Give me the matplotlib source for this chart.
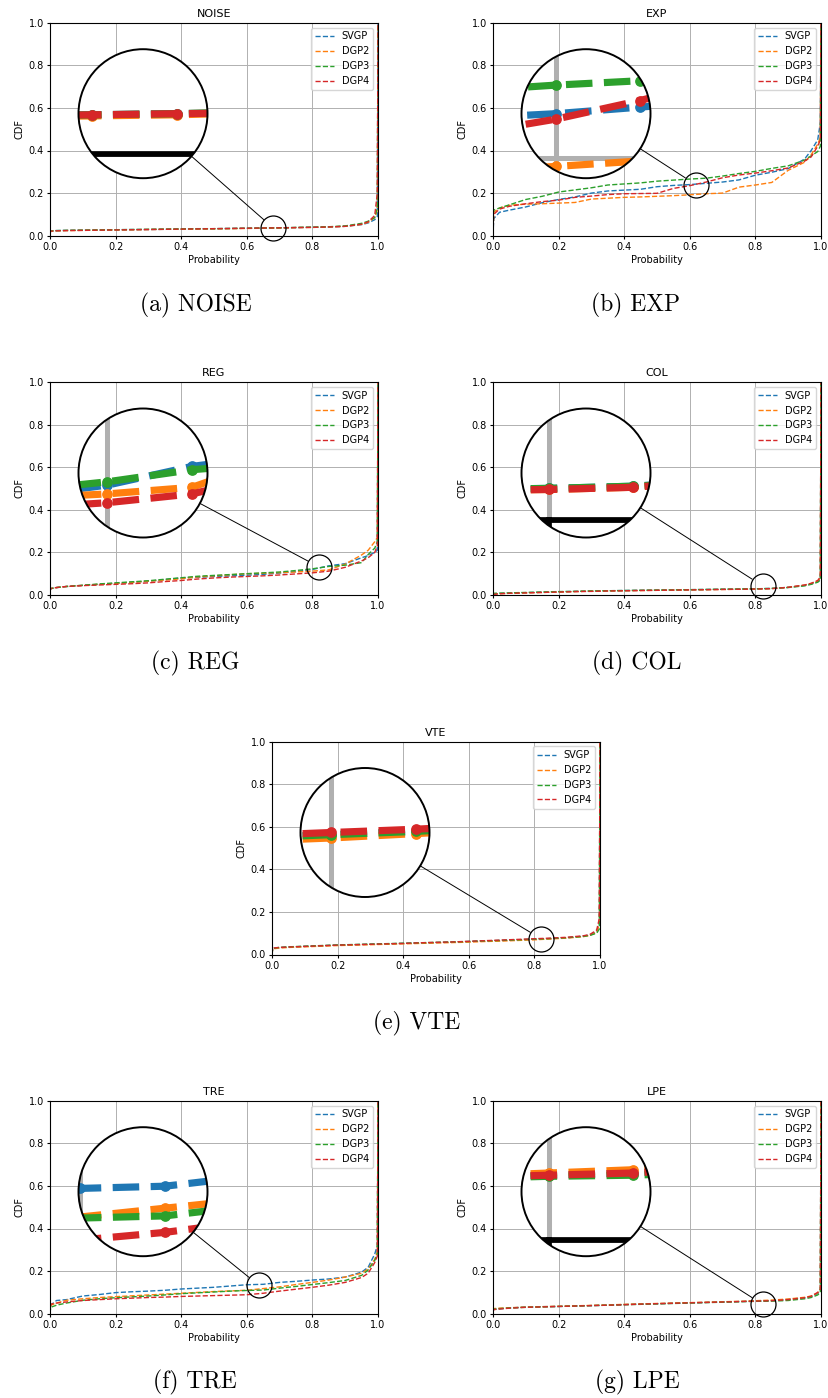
import numpy as np
import matplotlib
matplotlib.use("Agg")
import matplotlib.pyplot as plt
from matplotlib.patches import Circle
from matplotlib.lines import Line2D

# common probability axis for every curve
prob = [0.0, 0.002, 0.02, 0.05, 0.1, 0.15, 0.2, 0.25, 0.3, 0.35, 0.4, 0.45, 0.5,
        0.55, 0.6, 0.65, 0.7, 0.75, 0.8, 0.85, 0.9, 0.95, 0.97, 0.99, 0.998, 1.0]

noise_svgp = [0.010, 0.022, 0.024, 0.025, 0.026, 0.027, 0.028, 0.029, 0.029, 0.030, 0.031, 0.032, 0.033,
              0.034, 0.035, 0.036, 0.037, 0.038, 0.040, 0.041, 0.044, 0.052, 0.060, 0.075, 0.090, 1.0]
noise_dgp2 = [0.010, 0.021, 0.023, 0.024, 0.025, 0.026, 0.027, 0.028, 0.029, 0.030, 0.030, 0.031, 0.032,
              0.033, 0.034, 0.035, 0.036, 0.038, 0.039, 0.041, 0.044, 0.053, 0.063, 0.085, 0.120, 1.0]
noise_dgp3 = [0.012, 0.022, 0.024, 0.025, 0.026, 0.027, 0.028, 0.029, 0.030, 0.031, 0.032, 0.033, 0.033,
              0.034, 0.035, 0.036, 0.037, 0.039, 0.040, 0.042, 0.046, 0.058, 0.068, 0.085, 0.130, 1.0]
noise_dgp4 = [0.010, 0.021, 0.023, 0.024, 0.025, 0.026, 0.027, 0.028, 0.029, 0.030, 0.031, 0.032, 0.033,
              0.034, 0.035, 0.036, 0.037, 0.038, 0.039, 0.041, 0.044, 0.054, 0.065, 0.095, 0.200, 1.0]

exp_svgp = [0.0, 0.080, 0.110, 0.120, 0.135, 0.155, 0.170, 0.182, 0.200, 0.210, 0.214, 0.218, 0.230,
            0.236, 0.240, 0.246, 0.252, 0.262, 0.284, 0.298, 0.315, 0.360, 0.400, 0.450, 0.530, 1.0]
exp_dgp2 = [0.0, 0.110, 0.130, 0.143, 0.148, 0.150, 0.153, 0.156, 0.172, 0.176, 0.180, 0.182, 0.185,
            0.188, 0.192, 0.197, 0.200, 0.228, 0.238, 0.250, 0.307, 0.345, 0.380, 0.430, 0.460, 1.0]
exp_dgp3 = [0.0, 0.120, 0.130, 0.145, 0.170, 0.185, 0.205, 0.215, 0.225, 0.238, 0.243, 0.248, 0.256,
            0.261, 0.266, 0.270, 0.280, 0.292, 0.302, 0.316, 0.328, 0.355, 0.375, 0.395, 0.420, 1.0]
exp_dgp4 = [0.0, 0.100, 0.125, 0.138, 0.150, 0.160, 0.167, 0.180, 0.186, 0.193, 0.197, 0.198, 0.199,
            0.222, 0.235, 0.252, 0.272, 0.285, 0.294, 0.305, 0.318, 0.350, 0.370, 0.420, 0.450, 1.0]

reg_svgp = [0.020, 0.030, 0.035, 0.040, 0.045, 0.050, 0.055, 0.060, 0.065, 0.072, 0.080, 0.083, 0.087,
            0.090, 0.093, 0.097, 0.103, 0.110, 0.120, 0.137, 0.147, 0.175, 0.185, 0.200, 0.210, 1.0]
reg_dgp2 = [0.020, 0.030, 0.035, 0.040, 0.045, 0.050, 0.054, 0.059, 0.065, 0.070, 0.076, 0.085, 0.090,
            0.095, 0.100, 0.102, 0.105, 0.108, 0.112, 0.118, 0.145, 0.188, 0.210, 0.250, 0.270, 1.0]
reg_dgp3 = [0.020, 0.030, 0.035, 0.040, 0.046, 0.052, 0.057, 0.062, 0.067, 0.074, 0.081, 0.088, 0.092,
            0.096, 0.100, 0.104, 0.108, 0.115, 0.123, 0.134, 0.140, 0.152, 0.190, 0.220, 0.250, 1.0]
reg_dgp4 = [0.015, 0.030, 0.035, 0.040, 0.044, 0.047, 0.050, 0.053, 0.057, 0.063, 0.068, 0.075, 0.080,
            0.084, 0.087, 0.090, 0.094, 0.099, 0.104, 0.112, 0.130, 0.160, 0.175, 0.200, 0.230, 1.0]

col_svgp = [0.0, 0.005, 0.007, 0.009, 0.011, 0.013, 0.015, 0.017, 0.018, 0.020, 0.021, 0.022, 0.023,
            0.024, 0.025, 0.026, 0.027, 0.028, 0.029, 0.031, 0.036, 0.045, 0.052, 0.062, 0.075, 1.0]
col_dgp2 = [0.0, 0.004, 0.006, 0.008, 0.010, 0.012, 0.014, 0.016, 0.018, 0.019, 0.020, 0.021, 0.022,
            0.023, 0.024, 0.025, 0.026, 0.027, 0.028, 0.030, 0.036, 0.046, 0.054, 0.066, 0.080, 1.0]
col_dgp3 = [0.0, 0.008, 0.009, 0.010, 0.012, 0.014, 0.016, 0.017, 0.019, 0.020, 0.021, 0.022, 0.023,
            0.024, 0.025, 0.026, 0.027, 0.028, 0.029, 0.031, 0.035, 0.043, 0.050, 0.060, 0.070, 1.0]
col_dgp4 = [0.0, 0.003, 0.006, 0.008, 0.010, 0.012, 0.014, 0.016, 0.017, 0.019, 0.020, 0.021, 0.022,
            0.023, 0.024, 0.025, 0.026, 0.027, 0.028, 0.030, 0.036, 0.047, 0.055, 0.068, 0.085, 1.0]

vte_svgp = [0.0, 0.028, 0.032, 0.035, 0.038, 0.041, 0.044, 0.046, 0.048, 0.050, 0.052, 0.054, 0.056,
            0.058, 0.061, 0.064, 0.066, 0.069, 0.072, 0.075, 0.079, 0.086, 0.092, 0.110, 0.150, 1.0]
vte_dgp2 = [0.0, 0.026, 0.030, 0.033, 0.036, 0.039, 0.042, 0.044, 0.046, 0.048, 0.050, 0.052, 0.054,
            0.056, 0.058, 0.061, 0.063, 0.066, 0.069, 0.073, 0.077, 0.084, 0.090, 0.105, 0.140, 1.0]
vte_dgp3 = [0.0, 0.028, 0.033, 0.036, 0.039, 0.042, 0.045, 0.047, 0.049, 0.051, 0.053, 0.055, 0.057,
            0.059, 0.061, 0.064, 0.066, 0.069, 0.072, 0.075, 0.079, 0.085, 0.090, 0.100, 0.120, 1.0]
vte_dgp4 = [0.0, 0.030, 0.033, 0.035, 0.038, 0.041, 0.044, 0.046, 0.048, 0.050, 0.052, 0.055, 0.057,
            0.059, 0.062, 0.065, 0.068, 0.071, 0.074, 0.077, 0.081, 0.088, 0.095, 0.115, 0.170, 1.0]

tre_svgp = [0.0, 0.040, 0.062, 0.066, 0.083, 0.090, 0.099, 0.103, 0.106, 0.110, 0.116, 0.120, 0.124,
            0.130, 0.136, 0.138, 0.147, 0.152, 0.158, 0.163, 0.172, 0.195, 0.218, 0.280, 0.320, 1.0]
tre_dgp2 = [0.0, 0.040, 0.050, 0.063, 0.070, 0.076, 0.080, 0.084, 0.088, 0.092, 0.096, 0.100, 0.104,
            0.107, 0.110, 0.118, 0.126, 0.137, 0.147, 0.158, 0.172, 0.190, 0.210, 0.255, 0.290, 1.0]
tre_dgp3 = [0.0, 0.030, 0.040, 0.050, 0.063, 0.070, 0.075, 0.079, 0.083, 0.088, 0.094, 0.098, 0.102,
            0.106, 0.109, 0.111, 0.120, 0.128, 0.137, 0.146, 0.156, 0.180, 0.205, 0.250, 0.280, 1.0]
tre_dgp4 = [0.0, 0.045, 0.050, 0.055, 0.062, 0.066, 0.070, 0.073, 0.076, 0.078, 0.081, 0.083, 0.085,
            0.087, 0.089, 0.096, 0.106, 0.115, 0.124, 0.134, 0.147, 0.170, 0.190, 0.240, 0.270, 1.0]

lpe_svgp = [0.010, 0.020, 0.023, 0.027, 0.031, 0.033, 0.034, 0.036, 0.038, 0.040, 0.043, 0.045, 0.047,
            0.049, 0.051, 0.053, 0.055, 0.057, 0.059, 0.061, 0.067, 0.075, 0.080, 0.095, 0.110, 1.0]
lpe_dgp2 = [0.012, 0.024, 0.026, 0.028, 0.031, 0.033, 0.035, 0.037, 0.039, 0.041, 0.044, 0.046, 0.048,
            0.050, 0.052, 0.054, 0.056, 0.058, 0.061, 0.064, 0.069, 0.077, 0.083, 0.098, 0.115, 1.0]
lpe_dgp3 = [0.010, 0.021, 0.024, 0.027, 0.030, 0.032, 0.034, 0.036, 0.038, 0.040, 0.042, 0.044, 0.046,
            0.048, 0.050, 0.052, 0.054, 0.056, 0.058, 0.059, 0.062, 0.070, 0.076, 0.088, 0.100, 1.0]
lpe_dgp4 = [0.008, 0.019, 0.022, 0.026, 0.030, 0.032, 0.034, 0.036, 0.038, 0.040, 0.042, 0.045, 0.047,
            0.049, 0.051, 0.053, 0.055, 0.057, 0.059, 0.061, 0.066, 0.075, 0.082, 0.100, 0.115, 1.0]

models = ["SVGP", "DGP2", "DGP3", "DGP4"]
colors = ["tab:blue", "tab:orange", "tab:green", "tab:red"]
titles = ["NOISE", "EXP", "REG", "COL", "VTE", "TRE", "LPE"]
captions = ["(a) NOISE", "(b) EXP", "(c) REG", "(d) COL", "(e) VTE", "(f) TRE", "(g) LPE"]
curves = [
    [noise_svgp, noise_dgp2, noise_dgp3, noise_dgp4],
    [exp_svgp, exp_dgp2, exp_dgp3, exp_dgp4],
    [reg_svgp, reg_dgp2, reg_dgp3, reg_dgp4],
    [col_svgp, col_dgp2, col_dgp3, col_dgp4],
    [vte_svgp, vte_dgp2, vte_dgp3, vte_dgp4],
    [tre_svgp, tre_dgp2, tre_dgp3, tre_dgp4],
    [lpe_svgp, lpe_dgp2, lpe_dgp3, lpe_dgp4],
]
# centre of the magnified region (data coordinates)
zoom_x = [0.68, 0.618, 0.821, 0.822, 0.82, 0.637, 0.822]
zoom_y = [0.037, 0.24, 0.131, 0.043, 0.074, 0.133, 0.044]

# layout in pixels (figure is 829x1398 at 100 dpi)
FIG_W, FIG_H = 829, 1398
AX_W, AX_H = 328, 213
ax_left = [50, 493, 50, 493, 272, 50, 493]
ax_top = [22.7, 22.7, 382, 382, 741.5, 1100.7, 1100.7]
cap_x = [196, 636, 195, 637, 417, 195, 637]
cap_y = [305, 305, 663, 663, 1023, 1382, 1382]

LW = 1.0          # curve width
GRID_LW = 0.7
SPINE_LW = 0.8
TICK_LEN = 2.5
R_SMALL = 12.5    # radius of the small circle (px)
R_BIG = 64.5      # radius of the magnifier (px)
BIG_DX, BIG_DY = 93, 91
MAG = R_BIG / R_SMALL
ticks = [0.0, 0.2, 0.4, 0.6, 0.8, 1.0]


def fig_rect(left, top, w, h):
    return [left / FIG_W, 1 - (top + h) / FIG_H, w / FIG_W, h / FIG_H]


def plot_panel(fig, i):
    ax = fig.add_axes(fig_rect(ax_left[i], ax_top[i], AX_W, AX_H))
    for ys, name, c in zip(curves[i], models, colors):
        ax.plot(prob, ys, "--", color=c, lw=LW, label=name)
    ax.set_xlim(0, 1)
    ax.set_ylim(0, 1)
    ax.set_xticks(ticks)
    ax.set_yticks(ticks)
    ax.grid(True, color="#b0b0b0", lw=GRID_LW)
    for s in ax.spines.values():
        s.set_linewidth(SPINE_LW)
    ax.tick_params(labelsize=7, length=TICK_LEN, width=SPINE_LW, pad=2)
    ax.set_title(titles[i], fontsize=8, pad=4)
    ax.set_xlabel("Probability", fontsize=7, labelpad=2)
    ax.set_ylabel("CDF", fontsize=7, labelpad=3)
    ax.legend(loc="upper right", fontsize=7)

    zx, zy = zoom_x[i], zoom_y[i]
    # small circle on the region being magnified
    ax.plot([zx], [zy], "o", ms=2 * R_SMALL * 0.72, mfc="none", mec="k", mew=0.9, zorder=6,
            clip_on=False)

    # magnifier
    cx, cy = ax_left[i] + BIG_DX, ax_top[i] + BIG_DY
    ins = fig.add_axes(fig_rect(cx - R_BIG, cy - R_BIG, 2 * R_BIG, 2 * R_BIG))
    ins.set_axis_off()
    dx, dy = R_SMALL / AX_W, R_SMALL / AX_H
    ins.set_xlim(zx - dx, zx + dx)
    ins.set_ylim(zy - dy, zy + dy)
    ins.add_patch(Circle((0.5, 0.5), 0.5, transform=ins.transAxes, fc="white", ec="none", zorder=0))

    for t in ticks:
        ins.plot([t, t], [0, 1], color="#b0b0b0", lw=GRID_LW * MAG, zorder=1)
        ins.plot([0, 1], [t, t], color="#b0b0b0", lw=GRID_LW * MAG, zorder=1)
        tl = TICK_LEN * 100 / 72 / AX_H
        ins.plot([t, t], [0, -tl], color="k", lw=SPINE_LW * MAG, zorder=2.5)
    ins.plot([0, 1, 1, 0, 0], [0, 0, 1, 1, 0], color="k", lw=SPINE_LW * MAG, zorder=2.5)
    for ys, c in zip(curves[i], colors):
        ins.plot(prob, ys, "--", color=c, lw=LW * MAG, marker="o", ms=LW * MAG * 1.3, zorder=3)

    clip = Circle((0.5, 0.5), 0.5, transform=ins.transAxes)
    for art in ins.lines:
        art.set_clip_path(clip)
    ins.add_patch(Circle((0.5, 0.5), 0.5, transform=ins.transAxes, fill=False, ec="k", lw=1.4,
                         zorder=5, clip_on=False))

    # connecting line between the two circles
    sx = ax_left[i] + zx * AX_W
    sy = ax_top[i] + (1 - zy) * AX_H
    d = np.array([sx - cx, sy - cy])
    d = d / np.hypot(*d)
    p1 = np.array([cx, cy]) + R_BIG * d
    p2 = np.array([sx, sy]) - R_SMALL * d
    fig.add_artist(Line2D([p1[0] / FIG_W, p2[0] / FIG_W], [1 - p1[1] / FIG_H, 1 - p2[1] / FIG_H],
                          transform=fig.transFigure, color="k", lw=0.7))

    fig.text(cap_x[i] / FIG_W, 1 - cap_y[i] / FIG_H, captions[i], ha="center", va="center",
             fontsize=17, family="cmr10")


fig = plt.figure(figsize=(FIG_W / 100, FIG_H / 100), dpi=100)
for i in range(len(titles)):
    plot_panel(fig, i)
fig.savefig("out.png", dpi=100)
